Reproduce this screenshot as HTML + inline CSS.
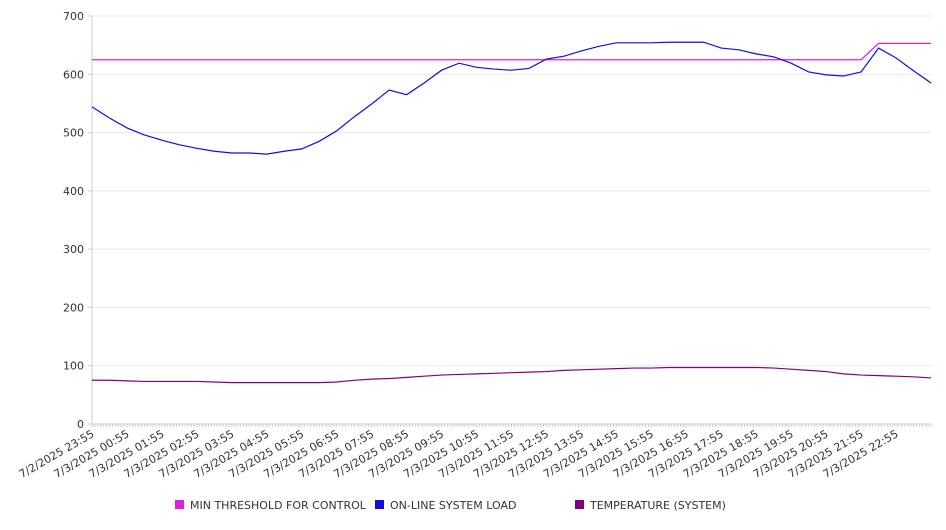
<!DOCTYPE html>
<html><head><meta charset="utf-8"><style>
body{margin:0;background:#fff;width:946px;height:526px;overflow:hidden;font-family:"DejaVu Sans","Liberation Sans",sans-serif}
svg text{font-family:"DejaVu Sans","Liberation Sans",sans-serif;fill:#333}
</style></head><body>
<svg id="chart" width="946" height="526" xmlns="http://www.w3.org/2000/svg"></svg>
<script>
const timeLabels=["7/2/2025 23:55","7/3/2025 00:55","7/3/2025 01:55","7/3/2025 02:55","7/3/2025 03:55","7/3/2025 04:55","7/3/2025 05:55","7/3/2025 06:55","7/3/2025 07:55","7/3/2025 08:55","7/3/2025 09:55","7/3/2025 10:55","7/3/2025 11:55","7/3/2025 12:55","7/3/2025 13:55","7/3/2025 14:55","7/3/2025 15:55","7/3/2025 16:55","7/3/2025 17:55","7/3/2025 18:55","7/3/2025 19:55","7/3/2025 20:55","7/3/2025 21:55","7/3/2025 22:55"];
const yTicks=[0,100,200,300,400,500,600,700];
const loadValues=[544,525,508,496,487,479,473,468,465,465,463,468,472,485,503,527,549,573,565,585,607,619,612,609,607,610,626,631,640,648,654,654,654,655,655,655,645,642,635,630,619,604,599,597,604,645,628,606,585];
const thresholdValues=[625,625,625,625,625,625,625,625,625,625,625,625,625,625,625,625,625,625,625,625,625,625,625,625,625,625,625,625,625,625,625,625,625,625,625,625,625,625,625,625,625,625,625,625,625,653,653,653,653];
const tempValues=[75,75,74,73,73,73,73,72,71,71,71,71,71,71,72,75,77,78,80,82,84,85,86,87,88,89,90,92,93,94,95,96,96,97,97,97,97,97,97,96,94,92,90,86,84,83,82,81,79];
const series=[{name:"MIN THRESHOLD FOR CONTROL",color:"#e020e0",vals:thresholdValues,key:"threshold-line"},
{name:"ON-LINE SYSTEM LOAD",color:"#1010e0",vals:loadValues,key:"load-line"},
{name:"TEMPERATURE (SYSTEM)",color:"#800080",vals:tempValues,key:"temperature-line"}];
const L=92,R=931,T=16,B=424,NS="http://www.w3.org/2000/svg",svg=document.getElementById('chart');
const x=i=>L+(R-L)*i/(loadValues.length-1);
const y=v=>B-(B-T)*v/700;
function el(t,a,p){const e=document.createElementNS(NS,t);for(const k in a)e.setAttribute(k,a[k]);(p||svg).appendChild(e);return e;}
yTicks.forEach(v=>{
 const g=el('line',{x1:L,x2:R,y1:y(v),y2:y(v),stroke:v?'#e8e8e8':'#ccc'});
 
 
 el('line',{x1:L-4,x2:L,y1:y(v),y2:y(v),stroke:'#ccc'});
 const t=el('text',{x:84,y:y(v)+4,'text-anchor':'end','font-size':11});
 
 
 t.textContent=v;
});
el('line',{x1:L,x2:L,y1:T,y2:B,stroke:'#ccc'});
for(let k=0;k<=288;k++){const xx=L+(R-L)*k/288;el('line',{x1:xx,x2:xx,y1:B,y2:B+3,stroke:'#ccc'});}
timeLabels.forEach((s,i)=>{
 const xx=L+(R-L)*i*12/288;
 const t=el('text',{x:0,y:0,'text-anchor':'end','font-size':11,transform:`translate(${xx+3},${B+12}) rotate(-30)`});
 
 
 t.textContent=s;
});
series.forEach(s=>{
 const p=el('polyline',{points:s.vals.map((v,i)=>x(i)+','+y(v)).join(' '),fill:'none',stroke:s.color,'stroke-width':1.2});
 
 
});
const lx=[175,375,575];
series.forEach((s,i)=>{
 const g=el('g',{});
 
 
 el('rect',{x:lx[i],y:500,width:9,height:9,fill:s.color},g);
 const t=el('text',{x:lx[i]+15,y:509,'font-size':11},g);
 t.textContent=s.name;
});
</script>
</body></html>
